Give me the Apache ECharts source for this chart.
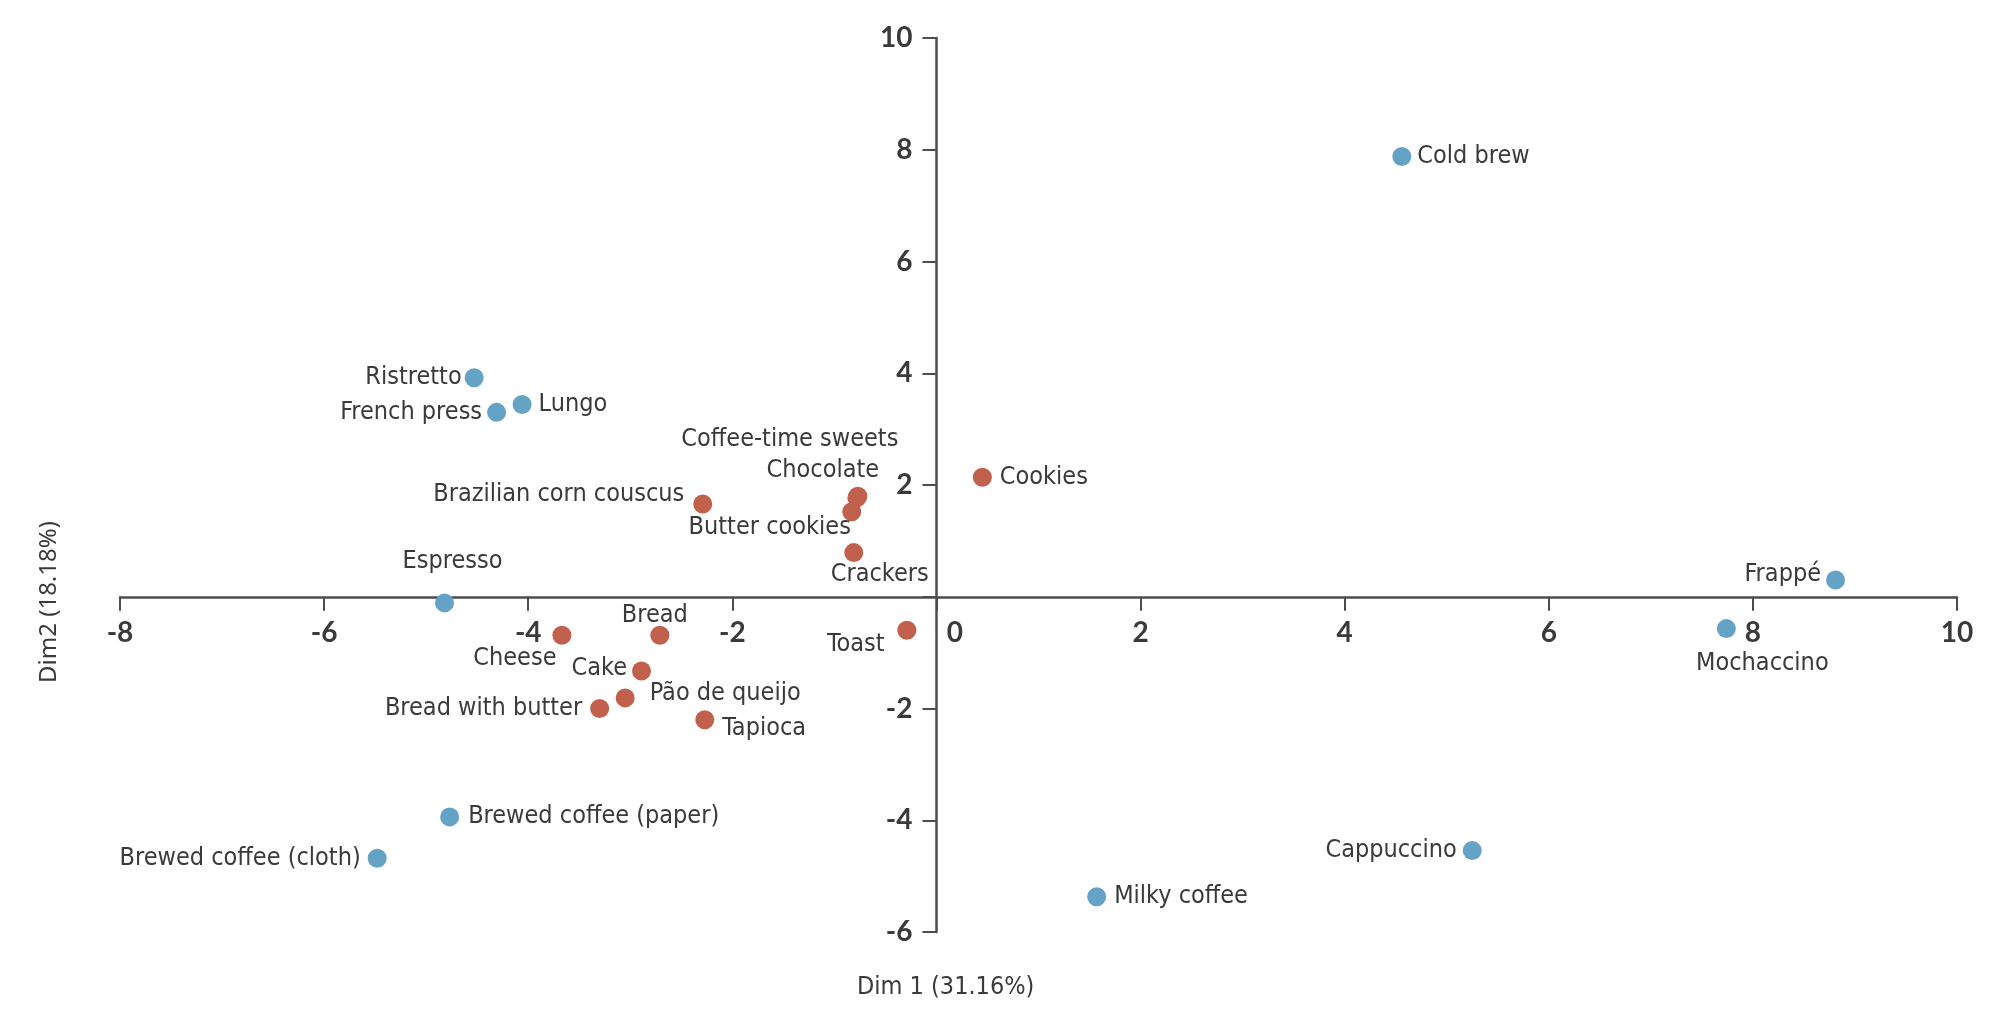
<!DOCTYPE html>
<html>
<head>
<meta charset="utf-8">
<script src="https://cdn.jsdelivr.net/npm/echarts@6/dist/echarts.min.js"></script>
<style>
html,body{margin:0;padding:0;background:#fff;}
#chart{width:2009px;height:1031px;}
</style>
</head>
<body>
<div id="chart"></div>
<script>
// ---- data ----
const coffeeNames = ['Cold brew','Ristretto','Lungo','French press','Espresso','Frappé','Mochaccino','Brewed coffee (paper)','Brewed coffee (cloth)','Cappuccino','Milky coffee'];
const coffeeX = [4.56, -4.53, -4.06, -4.31, -4.82, 8.81, 7.74, -4.77, -5.48, 5.25, 1.57];
const coffeeY = [7.88, 3.92, 3.44, 3.30, -0.11, 0.30, -0.57, -3.94, -4.68, -4.54, -5.37];

const foodNames = ['Cookies','Coffee-time sweets','Chocolate','Butter cookies','Brazilian corn couscus','Crackers','Cheese','Bread','Toast','Cake','Pão de queijo','Bread with butter','Tapioca'];
const foodX = [0.45, -0.77, -0.78, -0.83, -2.29, -0.81, -3.67, -2.71, -0.29, -2.89, -3.05, -3.30, -2.27];
const foodY = [2.14, 1.80, 1.77, 1.52, 1.66, 0.79, -0.69, -0.69, -0.60, -1.33, -1.81, -2.00, -2.20];

const xTicks = {min: -8, max: 10, interval: 2};
const yTicks = {min: -6, max: 10, interval: 2};
const xAxisTitle = 'Dim 1 (31.16%)';
const yAxisTitle = 'Dim2 (18.18%)';

// ---- layout / label placement (style) ----
const W = 2009, H = 1031;
const GRID = {left: 120, right: 52, top: 38, bottom: 99};
const labelPlace = {
  'Cold brew': ['right', 6, [0, 0]],
  'Ristretto': ['left', 3, [0, 0]],
  'Lungo': ['right', 7, [0, 0]],
  'French press': ['left', 5, [0, 0]],
  'Espresso': ['inside', 0, [8, -41]],
  'Frappé': ['left', 5, [0, -5]],
  'Mochaccino': ['inside', 0, [36, 35]],
  'Brewed coffee (paper)': ['right', 9, [0, 0]],
  'Brewed coffee (cloth)': ['left', 7, [0, 0]],
  'Cappuccino': ['left', 6, [0, 0]],
  'Milky coffee': ['right', 8, [0, 0]],
  'Cookies': ['right', 8, [0, 0]],
  'Coffee-time sweets': ['inside', 0, [-68, -57]],
  'Chocolate': ['inside', 0, [-34, -27]],
  'Butter cookies': ['inside', 0, [-82, 16]],
  'Brazilian corn couscus': ['left', 9, [0, -9]],
  'Crackers': ['inside', 0, [26, 22]],
  'Cheese': ['inside', 0, [-47, 23]],
  'Bread': ['inside', 0, [-5, -20]],
  'Toast': ['inside', 0, [-51, 14]],
  'Cake': ['left', 5, [0, -3]],
  'Pão de queijo': ['right', 15, [0, -4]],
  'Bread with butter': ['left', 8, [0, 0]],
  'Tapioca': ['right', 8, [0, 9]]
};

// axis lines cross at zero: shift each axis from its grid edge to the zero of the other scale
const gridW = W - GRID.left - GRID.right;
const gridH = H - GRID.top - GRID.bottom;
const yAxisShift = -gridW * (0 - xTicks.min) / (xTicks.max - xTicks.min);
const xAxisShift = -gridH * (0 - yTicks.min) / (yTicks.max - yTicks.min);

const LABEL_FONT = '"Liberation Sans Narrow", "DejaVu Sans Condensed", "Noto Sans", sans-serif';
const TICK_FONT = 'Lato, "Noto Sans", sans-serif';
const TEXT_COLOR = '#3a3a3a';
const AXIS_COLOR = '#4d4d4d';

function buildPoints(names, xs, ys) {
  return names.map((n, i) => {
    const p = labelPlace[n] || ['right', 6, [0, 0]];
    return {
      name: n,
      value: [xs[i], ys[i]],
      label: {position: p[0], distance: p[1], offset: p[2]}
    };
  });
}

const labelCommon = {
  show: true,
  formatter: '{b}',
  fontFamily: LABEL_FONT,
  fontSize: 25,
  color: TEXT_COLOR
};

const tickLabel = {fontFamily: TICK_FONT, fontWeight: 'bold', fontSize: 28, color: TEXT_COLOR};

const chart = echarts.init(document.getElementById('chart'), null, {renderer: 'canvas'});
chart.setOption({
  animation: false,
  backgroundColor: '#ffffff',
  grid: {left: GRID.left, right: GRID.right, top: GRID.top, bottom: GRID.bottom, containLabel: false},
  xAxis: {
    type: 'value', position: 'bottom', offset: xAxisShift,
    min: xTicks.min, max: xTicks.max, interval: xTicks.interval,
    axisLine: {show: true, onZero: false, lineStyle: {color: AXIS_COLOR, width: 2.5}},
    axisTick: {show: true, inside: false, length: 14, lineStyle: {color: AXIS_COLOR, width: 2}},
    splitLine: {show: false},
    axisLabel: Object.assign({
      margin: 22,
      formatter: v => v === 0 ? '{z|0}' : String(v),
      rich: {z: Object.assign({padding: [0, 0, 0, 37]}, tickLabel)}
    }, tickLabel)
  },
  yAxis: {
    type: 'value', position: 'left', offset: yAxisShift,
    min: yTicks.min, max: yTicks.max, interval: yTicks.interval,
    axisLine: {show: true, onZero: false, lineStyle: {color: AXIS_COLOR, width: 2.5}},
    axisTick: {show: true, inside: false, length: 14, lineStyle: {color: AXIS_COLOR, width: 2}},
    splitLine: {show: false},
    axisLabel: Object.assign({
      margin: 24,
      formatter: v => v === 0 ? '' : String(v)
    }, tickLabel)
  },
  graphic: [
    {type: 'text', left: 857, top: 975, style: {text: xAxisTitle, font: '25px ' + LABEL_FONT, fill: TEXT_COLOR}},
    {type: 'text', x: 49, y: 602, rotation: Math.PI / 2, style: {text: yAxisTitle, font: '24px "Noto Sans", sans-serif', fill: TEXT_COLOR, textAlign: 'center', textVerticalAlign: 'middle'}}
  ],
  series: [
    {
      name: 'Coffee', type: 'scatter', symbol: 'circle', symbolSize: 19,
      itemStyle: {color: '#65a3c6', opacity: 1},
      label: labelCommon,
      data: buildPoints(coffeeNames, coffeeX, coffeeY)
    },
    {
      name: 'Food', type: 'scatter', symbol: 'circle', symbolSize: 19,
      itemStyle: {color: '#c1604d', opacity: 1},
      label: labelCommon,
      data: buildPoints(foodNames, foodX, foodY)
    }
  ]
});
</script>
</body>
</html>
